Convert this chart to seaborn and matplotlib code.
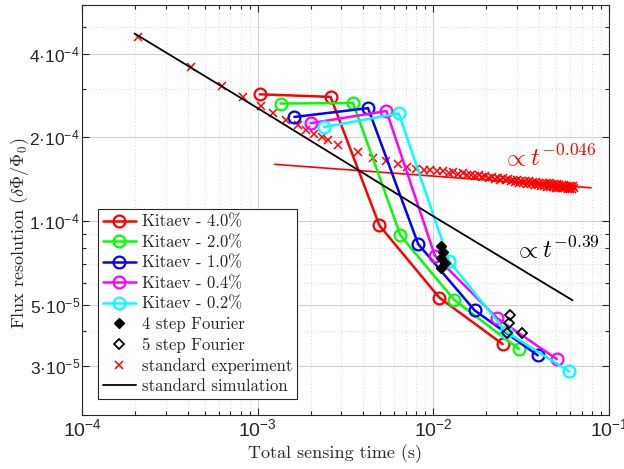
import matplotlib
matplotlib.use("Agg")
import matplotlib.pyplot as plt
import seaborn as sns
import pandas as pd
from matplotlib.font_manager import FontProperties
from matplotlib.ticker import NullFormatter

# ---------------- data ----------------
kitaev_labels = ["Kitaev - 4.0%", "Kitaev - 2.0%", "Kitaev - 1.0%", "Kitaev - 0.4%", "Kitaev - 0.2%"]
kitaev_colors = ["#ff0000", "#00ff00", "#0000ff", "#ff00ff", "#00ffff"]
k40_t = [1.03e-3, 2.60e-3, 4.93e-3, 1.08e-2, 2.48e-2]
k40_y = [2.86e-4, 2.80e-4, 9.64e-5, 5.30e-5, 3.60e-5]
k20_t = [1.35e-3, 3.49e-3, 6.50e-3, 1.31e-2, 3.08e-2]
k20_y = [2.65e-4, 2.66e-4, 8.87e-5, 5.21e-5, 3.45e-5]
k10_t = [1.62e-3, 4.25e-3, 8.19e-3, 1.72e-2, 3.93e-2]
k10_y = [2.37e-4, 2.55e-4, 8.27e-5, 4.76e-5, 3.28e-5]
k04_t = [2.00e-3, 5.41e-3, 1.02e-2, 2.31e-2, 5.04e-2]
k04_y = [2.25e-4, 2.49e-4, 7.51e-5, 4.46e-5, 3.18e-5]
k02_t = [2.39e-3, 6.36e-3, 1.23e-2, 2.59e-2, 5.94e-2]
k02_y = [2.18e-4, 2.44e-4, 7.16e-5, 3.99e-5, 2.87e-5]

four4_t = [1.103e-2, 1.133e-2, 1.103e-2, 1.163e-2, 1.103e-2]
four4_y = [8.12e-5, 7.72e-5, 7.34e-5, 7.04e-5, 6.76e-5]
four5_t = [2.73e-2, 2.70e-2, 2.61e-2, 3.18e-2]
four5_y = [4.59e-5, 4.28e-5, 3.96e-5, 3.96e-5]

exp_t = [2.07e-4, 4.2e-4, 6.3e-4, 8.2e-4, 1.04e-3, 1.22e-3, 1.45e-3, 1.69e-3, 1.89e-3,
         2.08e-3, 2.31e-3, 2.50e-3, 2.88e-3, 3.73e-3, 4.53e-3, 5.40e-3, 6.31e-3, 7.10e-3, 7.95e-3,
         8.8e-3, 9.6e-3, 10.5e-3, 11.3e-3, 12.2e-3, 13.0e-3, 13.9e-3, 14.7e-3, 15.6e-3, 16.4e-3,
         17.3e-3, 18.1e-3, 19.0e-3, 19.8e-3, 20.7e-3, 21.5e-3, 22.4e-3, 23.2e-3, 24.1e-3, 24.9e-3,
         25.8e-3, 26.6e-3, 27.5e-3, 28.3e-3, 29.2e-3, 30.0e-3, 30.9e-3, 31.7e-3, 32.6e-3, 33.4e-3,
         34.3e-3, 35.1e-3, 36.0e-3, 36.8e-3, 37.7e-3, 38.5e-3, 39.4e-3, 40.2e-3, 41.1e-3, 41.9e-3,
         42.8e-3, 43.6e-3, 44.5e-3, 45.3e-3, 46.2e-3, 47.0e-3, 47.9e-3, 48.7e-3, 49.6e-3, 50.4e-3,
         51.3e-3, 52.1e-3, 53.0e-3, 53.8e-3, 54.7e-3, 55.5e-3, 56.4e-3, 57.2e-3, 58.1e-3, 58.9e-3,
         59.8e-3, 60.6e-3, 61.5e-3, 62.3e-3, 63.2e-3]
exp_y = [4.61e-4, 3.59e-4, 3.06e-4, 2.79e-4, 2.59e-4, 2.44e-4, 2.32e-4, 2.21e-4, 2.12e-4,
         2.06e-4, 2.00e-4, 1.96e-4, 1.88e-4, 1.77e-4, 1.68e-4, 1.64e-4, 1.60e-4, 1.56e-4, 1.54e-4,
         1.530e-4, 1.525e-4, 1.515e-4, 1.510e-4, 1.495e-4, 1.500e-4, 1.480e-4, 1.485e-4, 1.465e-4, 1.470e-4,
         1.450e-4, 1.460e-4, 1.440e-4, 1.450e-4, 1.425e-4, 1.440e-4, 1.415e-4, 1.430e-4, 1.405e-4, 1.425e-4,
         1.400e-4, 1.420e-4, 1.390e-4, 1.410e-4, 1.380e-4, 1.405e-4, 1.375e-4, 1.395e-4, 1.370e-4, 1.395e-4,
         1.360e-4, 1.390e-4, 1.355e-4, 1.385e-4, 1.350e-4, 1.380e-4, 1.345e-4, 1.375e-4, 1.340e-4, 1.370e-4,
         1.335e-4, 1.370e-4, 1.330e-4, 1.365e-4, 1.330e-4, 1.360e-4, 1.325e-4, 1.360e-4, 1.320e-4, 1.355e-4,
         1.320e-4, 1.350e-4, 1.315e-4, 1.350e-4, 1.310e-4, 1.345e-4, 1.310e-4, 1.340e-4, 1.305e-4, 1.340e-4,
         1.305e-4, 1.335e-4, 1.300e-4, 1.335e-4, 1.310e-4]

sim_t = [2.0e-4, 1.0e-3, 1.0e-2, 6.2e-2]
sim_y = [4.73e-4, 2.55e-4, 1.04e-4, 5.18e-5]

fit_t = [1.25e-3, 7.9e-2]
fit_y = [1.60e-4, 1.317e-4]

xtick_vals = [1e-4, 1e-3, 1e-2, 1e-1]
xtick_labels = [r"$10^{-4}$", r"$10^{-3}$", r"$10^{-2}$", r"$10^{-1}$"]
ytick_vals = [3e-5, 5e-5, 1e-4, 2e-4, 4e-4]
ytick_labels = ["3·10$^{-5}$", "5·10$^{-5}$", "1·10$^{-4}$", "2·10$^{-4}$", "4·10$^{-4}$"]

# ---------------- style ----------------
sns.set_theme(style="ticks")
plt.rcParams.update({
    "font.family": ["Liberation Sans", "DejaVu Sans"],
    "mathtext.fontset": "custom",
    "mathtext.rm": "Liberation Sans",
    "mathtext.it": "Liberation Sans:italic",
    "mathtext.bf": "Liberation Sans:bold",
    "axes.unicode_minus": True,
})
spine_c = "#262626"

fig = plt.figure(figsize=(6.24, 4.69), dpi=100)
ax = fig.add_axes([82 / 624, 1 - 415 / 469, 527 / 624, 410 / 469])
ax.set_xscale("log")
ax.set_yscale("log")

ax.grid(which="major", color="#d2d2d2", lw=0.8, ls="-")
ax.grid(which="minor", color="#d6d6d6", lw=0.7, ls=(0, (1, 2.5)))
ax.set_axisbelow(True)

# experiment
exp_df = pd.DataFrame({"t": exp_t, "y": exp_y})
sns.lineplot(data=exp_df, x="t", y="y", ax=ax, sort=False, estimator=None,
             linestyle="", marker="x", color="#ff0000", markersize=5.5, markeredgewidth=1.1,
             markeredgecolor="#ff0000", label="standard experiment", legend=False)
exp_line = ax.lines[-1]
# fit line
fit_df = pd.DataFrame({"t": fit_t, "y": fit_y})
sns.lineplot(data=fit_df, x="t", y="y", ax=ax, sort=False, estimator=None,
             color="#ff0000", lw=1.2, legend=False)

handles = []
kit_t = [k40_t, k20_t, k10_t, k04_t, k02_t]
kit_y = [k40_y, k20_y, k10_y, k04_y, k02_y]
for lab, col, tt, yy in zip(kitaev_labels, kitaev_colors, kit_t, kit_y):
    df = pd.DataFrame({"t": tt, "y": yy})
    sns.lineplot(data=df, x="t", y="y", ax=ax, sort=False, estimator=None,
                 color=col, lw=1.8, marker="o", markersize=8.5, markerfacecolor="none",
                 markeredgecolor=col, markeredgewidth=1.6, label=lab, legend=False)
    handles.append(ax.lines[-1])

sim_df = pd.DataFrame({"t": sim_t, "y": sim_y})
sns.lineplot(data=sim_df, x="t", y="y", ax=ax, sort=False, estimator=None,
             color="black", lw=1.3, label="standard simulation", legend=False)
sim_line = ax.lines[-1]

f4_df = pd.DataFrame({"t": four4_t, "y": four4_y})
sns.lineplot(data=f4_df, x="t", y="y", ax=ax, sort=False, estimator=None, linestyle="",
             marker="D", markersize=5.5, color="black", markerfacecolor="black",
             markeredgecolor="black", markeredgewidth=1.0, label="4 step Fourier", legend=False)
f4_line = ax.lines[-1]
f5_df = pd.DataFrame({"t": four5_t, "y": four5_y})
sns.lineplot(data=f5_df, x="t", y="y", ax=ax, sort=False, estimator=None, linestyle="",
             marker="D", markersize=5.5, color="black", markerfacecolor="none",
             markeredgecolor="black", markeredgewidth=1.3, label="5 step Fourier", legend=False)
f5_line = ax.lines[-1]

ax.set_xlim(1e-4, 1e-1)
ax.set_ylim(2e-5, 6e-4)

ax.set_xticks(xtick_vals, labels=xtick_labels)
ax.set_yticks(ytick_vals, labels=ytick_labels)
ax.xaxis.set_minor_formatter(NullFormatter())
ax.yaxis.set_minor_formatter(NullFormatter())
ax.tick_params(axis="both", which="both", direction="in", top=True, right=True,
               color=spine_c, width=0.8)
ax.tick_params(which="major", length=5)
ax.tick_params(which="minor", length=3)
ax.tick_params(axis="x", labelsize=14, pad=2, labelcolor="#262626")
ax.tick_params(axis="y", labelsize=12.5, pad=1.5, labelcolor="#262626")
for s in ax.spines.values():
    s.set_color(spine_c)
    s.set_linewidth(0.8)

ax.set_xlabel("Total sensing time (s)", fontfamily="cmr10", fontsize=13, color="#262626")
ax.set_ylabel(r"Flux resolution $(\delta\Phi/\Phi_0)$", fontfamily="cmr10", fontsize=13,
              math_fontfamily="cm", color="#262626")
ax.xaxis.set_label_coords(0.481, -0.072)
ax.yaxis.set_label_coords(-0.097, 0.443)

ax.text(0.0245, 1.575e-4, r"$\propto t^{-0.046}$", color="#ff0000", fontsize=18,
        math_fontfamily="cm", ha="left", va="baseline")
ax.text(0.0288, 7.34e-5, r"$\propto t^{-0.39}$", color="black", fontsize=18,
        math_fontfamily="cm", ha="left", va="baseline")

leg_handles = handles + [f4_line, f5_line, exp_line, sim_line]
leg_labels = kitaev_labels + ["4 step Fourier", "5 step Fourier", "standard experiment", "standard simulation"]
leg = ax.legend(leg_handles, leg_labels, loc="lower left", bbox_to_anchor=(0.0298, 0.039),
                borderaxespad=0, prop=FontProperties(family="cmr10", size=12), frameon=True,
                fancybox=False, edgecolor=spine_c, framealpha=1, handlelength=2.0,
                handletextpad=0.35, labelspacing=0.31, borderpad=0.3, numpoints=1)
leg.get_frame().set_linewidth(0.8)

fig.savefig("out.png", dpi=100)
